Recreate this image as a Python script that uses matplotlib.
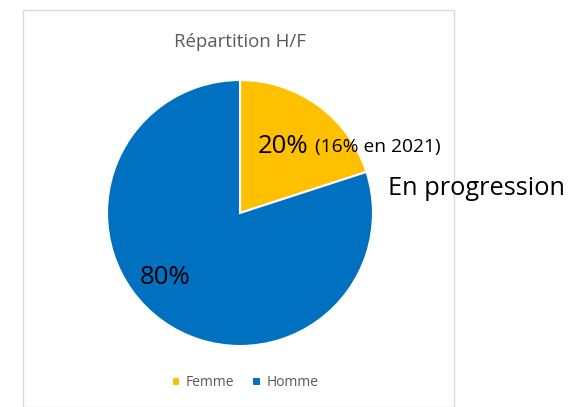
import matplotlib.pyplot as plt
from matplotlib.patches import Rectangle

plt.rcParams['font.family'] = ['Open Sans', 'DejaVu Sans']

# données
categories = ['Femme', 'Homme']
parts = [20, 80]
couleurs = ['#FFC000', '#0070C0']

W, H = 583, 407
fig = plt.figure(figsize=(W / 100, H / 100), dpi=100)

# cadre du graphique
fig.patches.append(Rectangle((22.5 / W, 0), (454 - 22.5) / W, 1 - 10 / H,
                             transform=fig.transFigure, fill=False,
                             edgecolor='#D9D9D9', linewidth=1))

# camembert
cx, cy, r = 240, 213, 133
ax = fig.add_axes([(cx - r) / W, (H - cy - r) / H, 2 * r / W, 2 * r / H])
wedges, _ = ax.pie(parts, colors=couleurs, startangle=90, counterclock=False,
                   radius=1, wedgeprops=dict(edgecolor='white', linewidth=1.5))
ax.set_xlim(-1, 1)
ax.set_ylim(-1, 1)
ax.set_aspect('auto')
ax.axis('off')

fig.text(cx / W, 1 - 42 / H, 'Répartition H/F', ha='center', va='center',
         fontsize=13.4, color='#595959')

# étiquettes
ax.text((258 - cx) / r, (cy - 146) / r, f'{parts[0]}%', ha='left', va='center',
        fontsize=18.5, color='black')
ax.text((315 - cx) / r, (cy - 147) / r, '(16% en 2021)', ha='left', va='center',
        fontsize=13.8, color='black')
ax.text((140 - cx) / r, (cy - 277) / r, f'{parts[1]}%', ha='left', va='center',
        fontsize=18.5, color='black')

fig.text(388 / W, 1 - 188 / H, 'En progression', ha='left', va='center',
         fontsize=18.3, color='black')

# légende
fig.legend(wedges, categories, loc='center', bbox_to_anchor=(245 / W, 1 - 383 / H),
           ncol=2, frameon=False, fontsize=10, handlelength=0.6, handleheight=0.6,
           handletextpad=0.4, columnspacing=1.3, labelcolor='#595959')

fig.savefig('out.png', dpi=100)
